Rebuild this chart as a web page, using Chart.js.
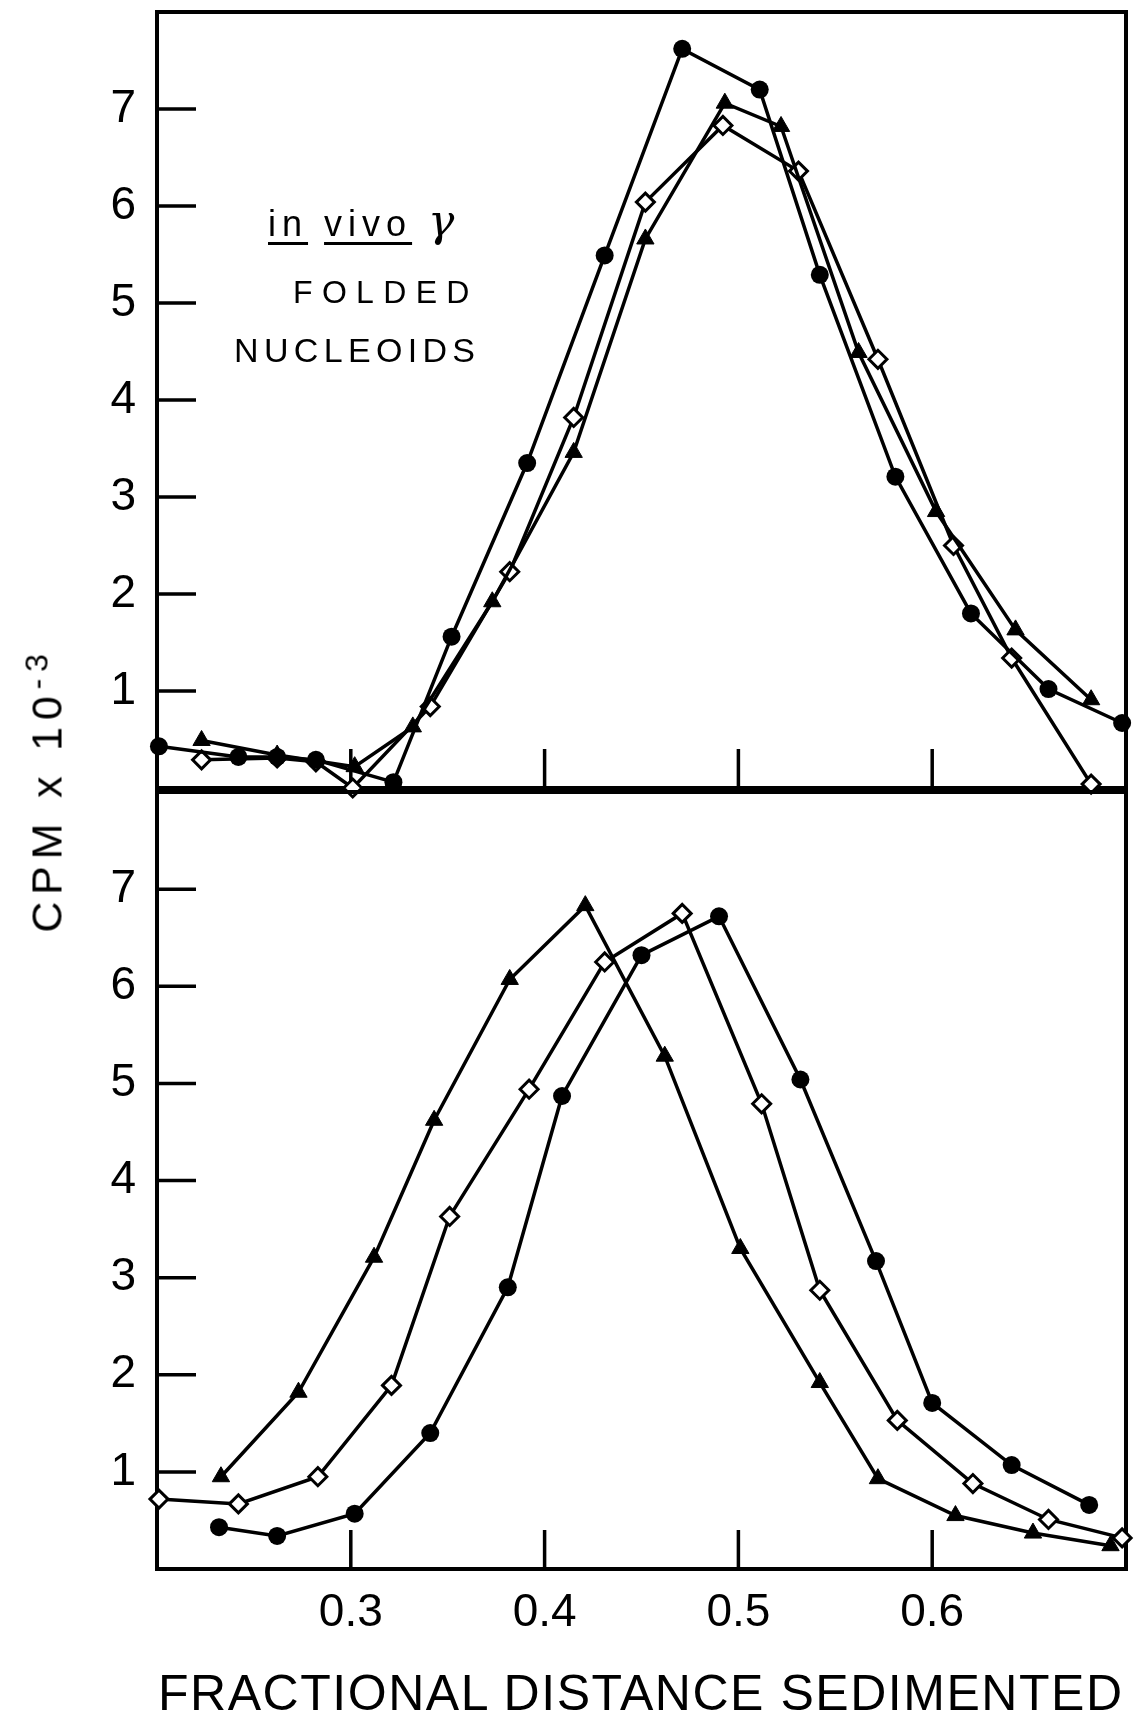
<!DOCTYPE html>
<html>
<head>
<meta charset="utf-8">
<title>CPM vs fractional distance sedimented</title>
<script src="https://cdn.jsdelivr.net/npm/chart.js@4.4.1/dist/chart.umd.min.js"></script>
<style>
  html, body { margin: 0; padding: 0; background: #fff; }
  #page {
    position: relative; width: 1138px; height: 1716px; overflow: hidden;
    background: #fff; color: #000;
    font-family: "Liberation Sans", Arial, sans-serif;
  }
  canvas { position: absolute; left: 0; }
  #top-chart { top: 0; }
  #bottom-chart { top: 780px; }
  .label { position: absolute; white-space: nowrap; line-height: 1; z-index: 2; }
  #y-title {
    left: 47px; top: 790px; font-size: 43px;
    transform: translate(-50%, -50%) rotate(-90deg);
  }
  #y-title sup { font-size: 32px; vertical-align: 0.45em; line-height: 0; }
  #x-title { left: 158px; top: 1668px; font-size: 50px; }
  #note-1 { left: 268px; top: 199px; font-size: 36px; letter-spacing: 6px; }
  #note-1 u { text-decoration-thickness: 3px; text-underline-offset: 6px; }
  #note-1 .gamma { font-family: "DejaVu Serif", serif; font-style: italic; font-size: 44px; letter-spacing: 0; }
  #note-2 { left: 293px; top: 276px; font-size: 32px; }
  #note-3 { left: 234px; top: 333px; font-size: 34px; }
</style>
</head>
<body>
<div id="page">
  <canvas id="top-chart" width="1138" height="800"></canvas>
  <canvas id="bottom-chart" width="1138" height="936"></canvas>
  <div class="label" id="y-title">CPM x 10<sup>-3</sup></div>
  <div class="label" id="x-title">FRACTIONAL DISTANCE SEDIMENTED</div>
  <div class="label" id="note-1"><u>in</u> <u>vivo</u> <span class="gamma">γ</span></div>
  <div class="label" id="note-2">FOLDED</div>
  <div class="label" id="note-3">NUCLEOIDS</div>
</div>
<script>
// Axis ticks
const xTickValues = [0.3, 0.4, 0.5, 0.6];
const xTickLabels = ['0.3', '0.4', '0.5', '0.6'];
const yTickValues = [1, 2, 3, 4, 5, 6, 7];

// Top panel (in vivo gamma, folded nucleoids)
const topCircleX = [0.201, 0.242, 0.262, 0.282, 0.322, 0.352, 0.391, 0.431, 0.471, 0.511, 0.542, 0.581, 0.620, 0.660, 0.698];
const topCircleY = [0.43, 0.32, 0.32, 0.29, 0.06, 1.56, 3.35, 5.49, 7.62, 7.20, 5.29, 3.21, 1.80, 1.02, 0.67];
const topTriangleX = [0.223, 0.262, 0.302, 0.332, 0.373, 0.415, 0.452, 0.493, 0.522, 0.562, 0.602, 0.643, 0.682];
const topTriangleY = [0.49, 0.34, 0.22, 0.63, 1.92, 3.46, 5.66, 7.06, 6.82, 4.49, 2.85, 1.63, 0.91];
const topDiamondX = [0.223, 0.262, 0.282, 0.301, 0.341, 0.382, 0.415, 0.452, 0.492, 0.531, 0.572, 0.611, 0.641, 0.682];
const topDiamondY = [0.29, 0.31, 0.27, 0.0, 0.84, 2.23, 3.82, 6.04, 6.83, 6.36, 4.42, 2.50, 1.34, 0.04];

// Bottom panel
const botCircleX = [0.232, 0.262, 0.302, 0.341, 0.381, 0.409, 0.450, 0.490, 0.532, 0.571, 0.600, 0.641, 0.681];
const botCircleY = [0.43, 0.34, 0.57, 1.40, 2.90, 4.87, 6.32, 6.72, 5.04, 3.17, 1.71, 1.07, 0.66];
const botTriangleX = [0.233, 0.273, 0.312, 0.343, 0.382, 0.421, 0.462, 0.501, 0.542, 0.572, 0.612, 0.652, 0.692];
const botTriangleY = [0.95, 1.82, 3.21, 4.62, 6.07, 6.83, 5.28, 3.30, 1.92, 0.93, 0.55, 0.37, 0.24];
const botDiamondX = [0.201, 0.242, 0.283, 0.321, 0.351, 0.392, 0.431, 0.471, 0.512, 0.542, 0.582, 0.621, 0.660, 0.698];
const botDiamondY = [0.72, 0.67, 0.95, 1.89, 3.63, 4.94, 6.25, 6.75, 4.79, 2.87, 1.53, 0.88, 0.51, 0.32];

const FONT = '"Liberation Sans", Arial, sans-serif';
const TICK_LEN = 39;

const toPoints = (xs, ys) => xs.map((x, i) => ({ x: x, y: ys[i] }));

const lineBase = {
    borderColor: '#000',
    borderWidth: 3.5,
    tension: 0,
    fill: false,
    clip: false,
    pointBorderColor: '#000'
};

const makeDatasets = (cx, cy, tx, ty, dx, dy) => [
    Object.assign({}, lineBase, {
        label: 'filled circles',
        data: toPoints(cx, cy),
        pointStyle: 'circle',
        pointRadius: 9,
        pointBackgroundColor: '#000',
        pointBorderWidth: 0
    }),
    Object.assign({}, lineBase, {
        label: 'filled triangles',
        data: toPoints(tx, ty),
        pointStyle: 'triangle',
        pointRadius: 10,
        pointBackgroundColor: '#000',
        pointBorderWidth: 1
    }),
    Object.assign({}, lineBase, {
        label: 'open diamonds',
        data: toPoints(dx, dy),
        pointStyle: 'rectRot',
        pointRadius: 9,
        pointBackgroundColor: '#fff',
        pointBorderWidth: 3
    })
];

// Frame round the plot area and inward tick marks
const frameTicks = {
    id: 'frameTicks',
    beforeDatasetsDraw(chart) {
        const { ctx, chartArea: a, scales: { x, y } } = chart;
        ctx.save();
        ctx.strokeStyle = '#000';
        ctx.lineWidth = 4;
        ctx.strokeRect(a.left, a.top, a.right - a.left, a.bottom - a.top);
        ctx.lineWidth = 3.5;
        ctx.beginPath();
        yTickValues.forEach(v => {
            const py = y.getPixelForValue(v);
            ctx.moveTo(a.left, py);
            ctx.lineTo(a.left + TICK_LEN, py);
        });
        xTickValues.forEach(v => {
            const px = x.getPixelForValue(v);
            ctx.moveTo(px, a.bottom);
            ctx.lineTo(px, a.bottom - TICK_LEN);
        });
        ctx.stroke();
        ctx.restore();
    }
};

const yScale = () => ({
    type: 'linear',
    min: 0,
    max: 8,
    afterBuildTicks: s => { s.ticks = yTickValues.map(v => ({ value: v })); },
    afterFit: s => {
        s.width = 157;
        s.paddingTop = 0;
        s.paddingBottom = 0;
    },
    border: { display: false },
    grid: { display: false, drawTicks: false },
    ticks: {
        padding: 21,
        color: '#000',
        font: { family: FONT, size: 46 },
        callback: v => String(v)
    }
});

const makeChart = (canvasId, datasets, showX, padding) => new Chart(document.getElementById(canvasId), {
    type: 'line',
    data: { datasets: datasets },
    options: {
        responsive: false,
        animation: false,
        devicePixelRatio: 1,
        events: [],
        layout: { padding: padding },
        plugins: { legend: { display: false }, tooltip: { enabled: false } },
        scales: {
            x: {
                type: 'linear',
                min: 0.2,
                max: 0.7,
                display: showX,
                afterBuildTicks: s => { s.ticks = xTickValues.map(v => ({ value: v })); },
                afterFit: s => {
                    s.height = showX ? 147 : 0;
                    s.paddingLeft = 0;
                    s.paddingRight = 0;
                },
                border: { display: false },
                grid: { display: false, drawTicks: false },
                ticks: {
                    autoSkip: false,
                    maxRotation: 0,
                    padding: 17,
                    color: '#000',
                    font: { family: FONT, size: 46 },
                    callback: (v, i) => xTickLabels[i]
                }
            },
            y: yScale()
        }
    },
    plugins: [frameTicks]
});

makeChart('top-chart',
    makeDatasets(topCircleX, topCircleY, topTriangleX, topTriangleY, topDiamondX, topDiamondY),
    false, { top: 10, right: 2, bottom: 11, left: 0 });

makeChart('bottom-chart',
    makeDatasets(botCircleX, botCircleY, botTriangleX, botTriangleY, botDiamondX, botDiamondY),
    true, { top: 9, right: 2, bottom: 0, left: 0 });

// Spread the spaced-out lettering to the widths seen in the figure
const fitWidth = (id, target) => {
    const el = document.getElementById(id);
    el.style.letterSpacing = '0px';
    const n = el.textContent.length;
    const w = el.offsetWidth;
    el.style.letterSpacing = ((target - w) / n) + 'px';
};
fitWidth('x-title', 966);
fitWidth('y-title', 285);
fitWidth('note-2', 186);
fitWidth('note-3', 246);
</script>
</body>
</html>
